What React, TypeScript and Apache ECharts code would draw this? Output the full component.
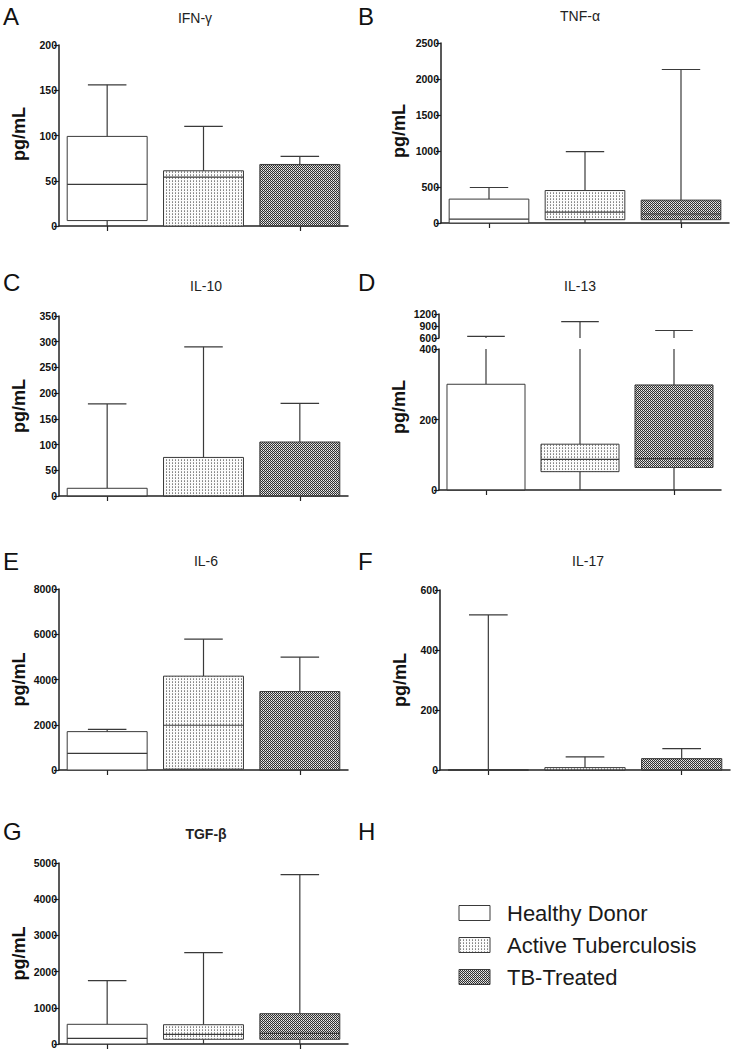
import React, { useEffect, useRef } from "react";
import * as echarts from "echarts";

const GROUPS = ["Healthy Donor", "Active Tuberculosis", "TB-Treated"];
// each row: [min, Q1, median, Q3, max] for one group
const IFN_GAMMA = [[0, 6, 46, 99, 156], [0, 0, 54, 61, 110], [0, 0, 0, 68, 77]];
const TNF_ALPHA = [[0, 0, 55, 332, 493], [0, 46, 150, 451, 991], [0, 46, 125, 318, 2132]];
const IL_10 = [[0, 0, 0, 15, 179], [0, 0, 0, 75, 290], [0, 0, 0, 105, 180]];
const IL_13 = [[0, 0, 0, 300, 640], [0, 52, 87, 130, 1010], [0, 64, 89, 298, 787]];
const IL_6 = [[0, 0, 739, 1696, 1800], [0, 40, 1979, 4148, 5786], [0, 0, 0, 3467, 4990]];
const IL_17 = [[0, 0, 0, 0, 517], [0, 0, 0, 8, 44], [0, 0, 0, 38, 71]];
const TGF_BETA = [[0, 0, 157, 544, 1749], [0, 130, 268, 533, 2523], [0, 130, 296, 837, 4677]];

const PANEL_DATA = [IFN_GAMMA, TNF_ALPHA, IL_10, IL_13, IL_6, IL_17, TGF_BETA];
const TITLES = ["IFN-γ", "TNF-α", "IL-10", "IL-13", "IL-6", "IL-17", "TGF-β"];
const LETTERS = ["A", "B", "C", "D", "E", "F", "G", "H"];
// y-axis [min, max, interval]
const Y_RANGES = [[0, 200, 50], [0, 2500, 500], [0, 350, 50], [0, 400, 200], [0, 8000, 2000], [0, 600, 200], [0, 5000, 1000]];
const IL13_UPPER_RANGE = [600, 1200, 300];
const Y_NAME = "pg/mL";

// layout (pixels)
const GRIDS = [
  { left: 59, top: 45, width: 289, height: 181 },
  { left: 441, top: 43, width: 288, height: 180 },
  { left: 59, top: 316, width: 289, height: 180 },
  { left: 439, top: 349, width: 282, height: 141 },
  { left: 59, top: 589, width: 289, height: 181 },
  { left: 440, top: 590, width: 290, height: 180 },
  { left: 59, top: 863, width: 289, height: 181 },
];
const IL13_UPPER_GRID = { left: 439, top: 314, width: 282, height: 24 };
const LETTER_POS = [[3, 4], [358, 4], [3, 270], [358, 270], [3, 549], [358, 549], [3, 819], [358, 819]];
const TITLE_POS = [[195, 18], [580, 16], [206, 286], [580, 286], [206, 561], [588, 561], [206, 834]];
const YNAME_POS = [[18.5, 134], [399, 131], [18.5, 406], [398.5, 407], [18.5, 679.5], [399.5, 680], [18.5, 953.5]];

const FONT = '"Liberation Sans", Arial, Helvetica, sans-serif';
const INK = "#222";
const LINE = "#3a3a3a";

function makePattern(w: number, h: number, bg: string, px: [number, number, string][]) {
  const c = document.createElement("canvas");
  c.width = w;
  c.height = h;
  const ctx = c.getContext("2d")!;
  ctx.fillStyle = bg;
  ctx.fillRect(0, 0, w, h);
  px.forEach(([x, y, col]) => {
    ctx.fillStyle = col;
    ctx.fillRect(x, y, 1, 1);
  });
  return { image: c, repeat: "repeat", imageWidth: w, imageHeight: h } as any;
}

function makeRenderer(lo: number, hi: number, fills: any[]) {
  return (params: any, api: any) => {
    const i = api.value(0);
    const mn = api.value(1), q1 = api.value(2), md = api.value(3), q3 = api.value(4), mx = api.value(5);
    const band = api.size([1, 0])[0];
    const bw = band * 0.83;
    const cw = band * 0.4;
    const cx = api.coord([i, lo])[0];
    const cl = (v: number) => Math.max(lo, Math.min(hi, v));
    const y = (v: number) => api.coord([i, cl(v)])[1];
    const ls = { stroke: LINE, lineWidth: 1.2 };
    const ch: any[] = [];
    if (mx > lo && q3 < hi && y(mx) < y(q3)) {
      ch.push({ type: "line", shape: { x1: cx, y1: y(q3), x2: cx, y2: y(mx) }, style: ls });
    }
    if (mx >= lo && mx <= hi) {
      ch.push({ type: "line", shape: { x1: cx - cw / 2, y1: y(mx), x2: cx + cw / 2, y2: y(mx) }, style: ls });
    }
    if (q1 > lo && mn < hi && y(mn) > y(q1)) {
      ch.push({ type: "line", shape: { x1: cx, y1: y(q1), x2: cx, y2: y(mn) }, style: ls });
    }
    if (q3 >= lo && q1 <= hi) {
      ch.push({
        type: "rect",
        shape: { x: cx - bw / 2, y: y(q3), width: bw, height: Math.max(0, y(q1) - y(q3)) },
        style: { fill: fills[i], stroke: LINE, lineWidth: 1 },
      });
      if (md >= lo && md <= hi && md >= q1 && md <= q3) {
        ch.push({ type: "line", shape: { x1: cx - bw / 2, y1: y(md), x2: cx + bw / 2, y2: y(md) }, style: ls });
      }
    }
    return { type: "group", children: ch };
  };
}

export default function App() {
  const ref = useRef<HTMLDivElement>(null);
  useEffect(() => {
    if (!ref.current) return;
    const chart = echarts.init(ref.current, null, { renderer: "svg" });
    const fills = [
      "#ffffff",
      makePattern(3, 3, "#fbfbfb", [[1, 0, "#a0a0a0"], [1, 1, "#858585"]]),
      makePattern(2, 2, "#303030", [[1, 0, "#eeeeee"], [0, 1, "#c4c4c4"]]),
    ];

    const grids: any[] = [];
    const xAxes: any[] = [];
    const yAxes: any[] = [];
    const series: any[] = [];
    const axisLine = { show: true, onZero: false, lineStyle: { color: INK, width: 1.5 } };

    const addPanel = (g: any, data: number[][], range: number[], showX: boolean) => {
      const gi = grids.length;
      grids.push({ ...g, containLabel: false, outerBoundsMode: "none" });
      xAxes.push({
        type: "category",
        gridIndex: gi,
        data: GROUPS,
        show: showX,
        boundaryGap: true,
        axisLine,
        axisTick: { show: true, alignWithLabel: true, length: 5, lineStyle: { color: INK, width: 1.2 } },
        axisLabel: { show: false },
        splitLine: { show: false },
      });
      yAxes.push({
        type: "value",
        gridIndex: gi,
        min: range[0],
        max: range[1],
        interval: range[2],
        axisLine,
        axisTick: { show: true, length: 5, lineStyle: { color: INK, width: 1.2 } },
        axisLabel: {
          show: true, margin: 2, fontFamily: FONT, fontSize: 10.5, fontWeight: "bold", color: "#111",
          formatter: (v: number) => String(v),
        },
        splitLine: { show: false },
      });
      series.push({
        type: "custom",
        xAxisIndex: gi,
        yAxisIndex: gi,
        renderItem: makeRenderer(range[0], range[1], fills),
        encode: { x: 0, y: [1, 2, 3, 4, 5] },
        data: data.map((r, i) => [i, ...r]),
        silent: true,
      });
    };

    PANEL_DATA.forEach((d, k) => addPanel(GRIDS[k], d, Y_RANGES[k], true));
    addPanel(IL13_UPPER_GRID, IL_13, IL13_UPPER_RANGE, false);

    const graphics: any[] = [];
    LETTERS.forEach((l, k) => {
      graphics.push({
        type: "text", x: LETTER_POS[k][0], y: LETTER_POS[k][1],
        style: { text: l, fontFamily: FONT, fontSize: 24, fill: "#111", verticalAlign: "top", align: "left" },
      });
    });
    TITLES.forEach((t, k) => {
      graphics.push({
        type: "text", x: TITLE_POS[k][0], y: TITLE_POS[k][1],
        style: {
          text: t, fontFamily: FONT, fontSize: 14, fontWeight: k === 6 ? "bold" : "normal",
          fill: "#222", align: "center", verticalAlign: "middle",
        },
      });
    });
    YNAME_POS.forEach((p) => {
      graphics.push({
        type: "text", x: p[0], y: p[1], rotation: Math.PI / 2,
        style: { text: Y_NAME, fontFamily: FONT, fontSize: 18, fontWeight: "bold", fill: "#111", align: "center", verticalAlign: "middle" },
      });
    });
    const legendY = [913, 945, 977];
    GROUPS.forEach((name, k) => {
      graphics.push({
        type: "rect", shape: { x: 459, y: legendY[k] - 7.5, width: 31, height: 15 },
        style: { fill: fills[k], stroke: LINE, lineWidth: 1 },
      });
      graphics.push({
        type: "text", x: 507, y: legendY[k],
        style: { text: name, fontFamily: FONT, fontSize: 22, fill: "#1a1a1a", align: "left", verticalAlign: "middle" },
      });
    });

    chart.setOption({
      animation: false,
      backgroundColor: "#ffffff",
      grid: grids,
      xAxis: xAxes,
      yAxis: yAxes,
      series,
      graphic: graphics,
    });
    return () => chart.dispose();
  }, []);
  return <div ref={ref} style={{ position: "absolute", left: 0, top: 0, width: 734, height: 1053 }} />;
}
